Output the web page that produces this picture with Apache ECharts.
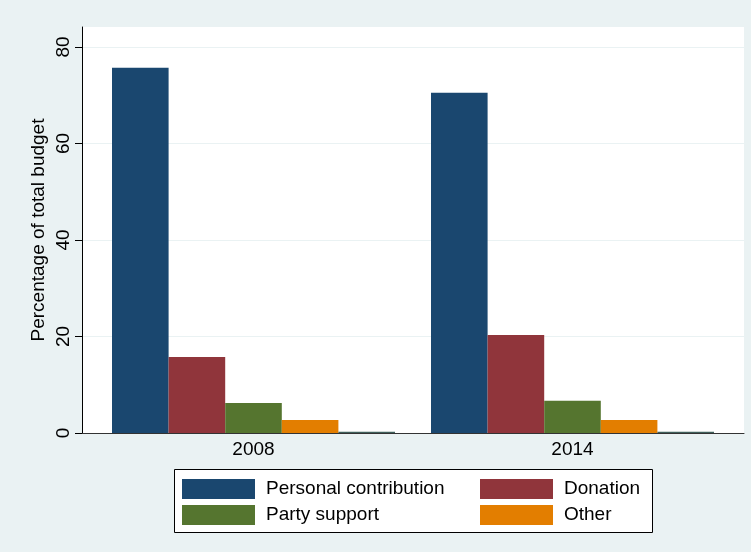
<!DOCTYPE html>
<html>
<head>
<meta charset="utf-8">
<script src="https://cdn.jsdelivr.net/npm/echarts@6/dist/echarts.min.js"></script>
<style>html,body{margin:0;padding:0;background:#eaf2f3;}#c{width:751px;height:552px;}</style>
</head>
<body>
<div id="c"></div>
<script>
const categories = ['2008', '2014'];
const personal = [75.7, 70.5];
const donation = [15.75, 20.3];
const party = [6.2, 6.7];
const other = [2.7, 2.7];
const unlabeled = [0.25, 0.25];
const yMin = 0;
const yMax = 80;
const yStep = 20;

const FONT = 'Liberation Sans, Arial, Helvetica, sans-serif';
const chart = echarts.init(document.getElementById('c'));

function bar(name, data, color) {
  return {
    name: name, type: 'bar', xAxisIndex: 2, yAxisIndex: 2,
    data: data, barWidth: 56.6, barGap: '0%',
    itemStyle: { color: color }, silent: true
  };
}

chart.setOption({
  backgroundColor: '#eaf2f3',
  animation: false,
  textStyle: { fontFamily: FONT },
  grid: [
    { left: 82, right: 7, top: 27, bottom: 119, show: true, backgroundColor: '#ffffff', borderWidth: 0 },
    { left: 82, right: 7, top: 47, bottom: 119 },
    { left: 94, width: 638, top: 47, bottom: 119 }
  ],
  xAxis: [
    { gridIndex: 0, type: 'value', min: 0, max: 1, position: 'bottom',
      axisLine: { show: true, lineStyle: { color: '#333', width: 1 } },
      axisTick: { show: false }, axisLabel: { show: false }, splitLine: { show: false } },
    { gridIndex: 1, type: 'value', min: 0, max: 1, show: false },
    { gridIndex: 2, type: 'category', data: categories,
      axisLine: { show: false }, axisTick: { show: false },
      axisLabel: { color: '#000', fontSize: 19, fontFamily: FONT, margin: 7 } }
  ],
  yAxis: [
    { gridIndex: 0, type: 'value', min: 0, max: 1,
      name: 'Percentage of total budget', nameLocation: 'middle', nameRotate: 90, nameGap: 34,
      nameTextStyle: { color: '#000', fontSize: 19, fontFamily: FONT },
      axisLine: { show: true, lineStyle: { color: '#000', width: 1 } },
      axisTick: { show: false }, axisLabel: { show: false }, splitLine: { show: false } },
    { gridIndex: 1, type: 'value', min: yMin, max: yMax, interval: yStep,
      axisLine: { show: false },
      axisTick: { show: true, length: 7, lineStyle: { color: '#000' } },
      axisLabel: { color: '#000', fontSize: 19, fontFamily: FONT, rotate: 90, margin: 9 },
      splitLine: { show: true, lineStyle: { color: '#eaf2f3', width: 1 } } },
    { gridIndex: 2, type: 'value', min: yMin, max: yMax, show: false }
  ],
  graphic: [
    { type: 'rect', z: 1, shape: { x: 174.5, y: 469.5, width: 478, height: 63 },
      style: { fill: '#ffffff', stroke: '#000', lineWidth: 1 } }
  ],
  legend: [
    { left: 182, top: 479, orient: 'vertical', itemWidth: 73, itemHeight: 20, itemGap: 6, padding: 0,
      icon: 'rect', z: 5, selectedMode: false,
      data: ['Personal contribution', 'Party support'],
      textStyle: { color: '#000', fontSize: 19, fontFamily: FONT, padding: [0, 0, 0, 6] } },
    { left: 480, top: 479, orient: 'vertical', itemWidth: 73, itemHeight: 20, itemGap: 6, padding: 0,
      icon: 'rect', z: 5, selectedMode: false,
      data: ['Donation', 'Other'],
      textStyle: { color: '#000', fontSize: 19, fontFamily: FONT, padding: [0, 0, 0, 6] } }
  ],
  series: [
    bar('Personal contribution', personal, '#1a476f'),
    bar('Donation', donation, '#90353b'),
    bar('Party support', party, '#55752f'),
    bar('Other', other, '#e37e00'),
    bar('Unlabeled', unlabeled, '#3f5f5a')
  ]
});
</script>
</body>
</html>
